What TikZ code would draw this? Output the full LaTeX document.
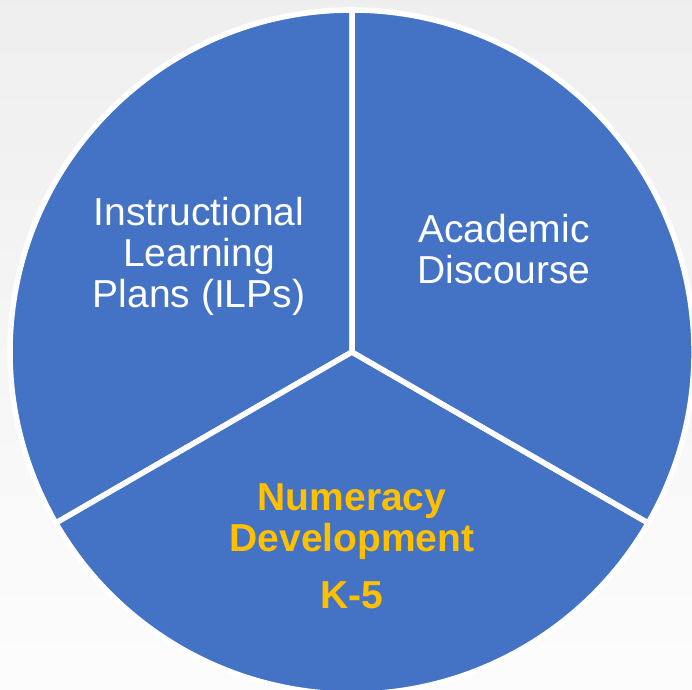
\documentclass[tikz,border=0pt]{standalone}
\usepackage{fontspec}
\setmainfont{Liberation Sans}
\usepackage{tikz}
\definecolor{pieblue}{HTML}{4472C4}
\definecolor{piegold}{HTML}{FFC000}

\begin{document}
\begin{tikzpicture}[x=1pt,y=1pt,
    slice/.style={fill=pieblue,draw=white,line width=5.5pt,line join=miter},
    lbl/.style={text=white,align=center,font=\fontsize{39}{41}\selectfont},
    hot/.style={text=piegold,align=center,font=\fontsize{39}{41}\selectfont\bfseries}]
	     \shade[top color=gray!13,bottom color=gray!2] (0,0) rectangle (692,689);
	     \useasboundingbox (0,0) rectangle (692,689);
	     \coordinate (c) at (352,337);
	     \begin{scope}
	       \clip (0,0) rectangle (692,689);
	       \foreach \a/\dx in {90/0,210/0,330/5}
	         \draw[slice,xshift=\dx] (c) -- ++(\a:342) arc[start angle=\a, delta angle=120, radius=342] -- cycle;
	     \end{scope}
	     \node[lbl] (ilp) at (199,433) {Instructional\\Learning\\Plans (ILPs)};
	     \node[lbl] (talk) at (504,440) {Academic\\Discourse};
	     \node[hot] (num) at (352,143) {Numeracy\\Development\\[16pt]K-5};
           \end{tikzpicture}
\end{document}
